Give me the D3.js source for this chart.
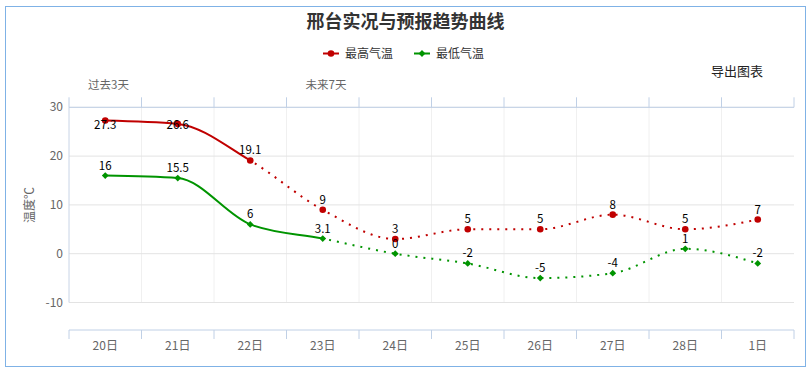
<!DOCTYPE html>
<html>
<head>
<meta charset="utf-8">
<script src="https://cdn.jsdelivr.net/npm/d3@7/dist/d3.min.js"></script>
<style>
body { margin: 0; background: #fff; }
text { font-family: "Noto Sans CJK SC", "Noto Sans", sans-serif; }
</style>
</head>
<body>
<div id="chart"></div>
<script>
// data
var days = ["20日", "21日", "22日", "23日", "24日", "25日", "26日", "27日", "28日", "1日"];
var maxTemps = [27.3, 26.6, 19.1, 9, 3, 5, 5, 8, 5, 7];
var minTemps = [16, 15.5, 6, 3.1, 0, -2, -5, -4, 1, -2];
var yTicks = [-10, 0, 10, 20, 30];
var periodLabels = ["过去3天", "未来7天"];
var periodStarts = [0, 3];   // index of first day in each period
var solidUntil = [2, 3];     // last observed point for max / min

var series = [
  {name: "最高气温", values: maxTemps, color: "#c00000", marker: "circle", solid: solidUntil[0]},
  {name: "最低气温", values: minTemps, color: "#009400", marker: "diamond", solid: solidUntil[1]}
];

var width = 811, height = 372;
// note: "top" is reserved on window, so plot edges get their own names
var plotLeft = 69, plotRight = 794, plotTop = 107.3, plotBottom = 302.5, xAxisY = 330;

var svg = d3.select("#chart").append("svg")
  .attr("width", width)
  .attr("height", height);

// outer frame
svg.append("rect")
  .attr("x", 5.5).attr("y", 6.5)
  .attr("width", 800).attr("height", 360)
  .style("fill", "#fff")
  .style("stroke", "#7fb2e6");

var x = d3.scaleBand().domain(days).range([plotLeft, plotRight]);
var bw = x.bandwidth();
function cx(i) { return x(days[i]) + bw / 2; }
var y = d3.scaleLinear().domain([-10, 30]).range([plotBottom, plotTop]);

// title
svg.append("text")
  .attr("x", width / 2).attr("y", 28)
  .attr("text-anchor", "middle")
  .attr("font-size", "18px")
  .attr("font-weight", "bold")
  .style("fill", "#333")
  .text("邢台实况与预报趋势曲线");

function drawMarker(g, px, py, s) {
  if (s.marker == "circle") {
    g.append("circle").attr("cx", px).attr("cy", py).attr("r", 3.3)
      .style("fill", s.color);
  } else {
    var r = 3.4;
    g.append("path")
      .attr("d", "M" + px + "," + (py - r) + "L" + (px + r) + "," + py + "L" + px + "," + (py + r) + "L" + (px - r) + "," + py + "Z")
      .style("fill", s.color);
  }
}

// legend
var legendX = [323, 414];
series.forEach(function(s, i) {
  var g = svg.append("g").attr("transform", "translate(" + legendX[i] + ",53.5)");
  g.append("line").attr("x1", 0).attr("x2", 16)
    .style("stroke", s.color).style("stroke-width", 2);
  drawMarker(g, 8, 0, s);
  g.append("text").attr("x", 22).attr("y", 4.5)
    .attr("font-size", "12px").style("fill", "#333")
    .text(s.name);
});

// export button text
svg.append("text")
  .attr("x", 737).attr("y", 76)
  .attr("text-anchor", "middle")
  .attr("font-size", "13px")
  .style("fill", "#222")
  .text("导出图表");

// period labels above top axis
periodLabels.forEach(function(t, i) {
  svg.append("text")
    .attr("x", x(days[periodStarts[i]]) + 19)
    .attr("y", 89)
    .attr("font-size", "11.5px")
    .style("fill", "#666")
    .text(t);
});

// grid
var bounds = days.map(function(d) { return x(d); }).concat([plotRight]);
svg.selectAll(".vgrid").data(bounds.slice(1, -1)).enter().append("line")
  .attr("x1", function(d) { return d; }).attr("x2", function(d) { return d; })
  .attr("y1", plotTop).attr("y2", plotBottom)
  .style("stroke", "#f0f0f0");

svg.selectAll(".hgrid").data(yTicks).enter().append("line")
  .attr("x1", plotLeft).attr("x2", plotRight)
  .attr("y1", function(d) { return y(d); }).attr("y2", function(d) { return y(d); })
  .style("stroke", "#e3e3e3");

// y axis
svg.append("line")
  .attr("x1", plotLeft).attr("x2", plotLeft).attr("y1", plotTop).attr("y2", plotBottom)
  .style("stroke", "#c8d4e6");
svg.selectAll(".ylab").data(yTicks).enter().append("text")
  .attr("x", plotLeft - 6).attr("y", function(d) { return y(d) + 4; })
  .attr("text-anchor", "end")
  .attr("font-size", "12px")
  .style("fill", "#666")
  .text(function(d) { return d; });
svg.append("text")
  .attr("transform", "translate(34," + ((plotTop + plotBottom) / 2) + ") rotate(-90)")
  .attr("text-anchor", "middle")
  .attr("font-size", "12px")
  .style("fill", "#666")
  .text("温度℃");

// top axis (ticks pointing up)
svg.append("line")
  .attr("x1", plotLeft).attr("x2", plotRight).attr("y1", plotTop).attr("y2", plotTop)
  .style("stroke", "#c0d0e6");
svg.selectAll(".ttick").data(bounds).enter().append("line")
  .attr("x1", function(d) { return d; }).attr("x2", function(d) { return d; })
  .attr("y1", plotTop - 10).attr("y2", plotTop)
  .style("stroke", "#c0d0e6");

// bottom axis
svg.append("line")
  .attr("x1", plotLeft).attr("x2", plotRight).attr("y1", xAxisY).attr("y2", xAxisY)
  .style("stroke", "#c0d0e6");
svg.selectAll(".btick").data(bounds).enter().append("line")
  .attr("x1", function(d) { return d; }).attr("x2", function(d) { return d; })
  .attr("y1", xAxisY).attr("y2", xAxisY + 9)
  .style("stroke", "#c0d0e6");
svg.selectAll(".xlab").data(days).enter().append("text")
  .attr("x", function(d, i) { return cx(i); })
  .attr("y", 350)
  .attr("text-anchor", "middle")
  .attr("font-size", "12px")
  .style("fill", "#666")
  .text(function(d) { return d; });

// series lines: solid for observed part, dotted for forecast
var line = d3.line()
  .x(function(d, i) { return cx(i); })
  .y(function(d) { return y(d); })
  .curve(d3.curveMonotoneX);

var defs = svg.append("defs");
series.forEach(function(s, k) {
  var splitX = cx(s.solid);
  defs.append("clipPath").attr("id", "solid" + k)
    .append("rect").attr("x", 0).attr("y", 0).attr("width", splitX).attr("height", height);
  defs.append("clipPath").attr("id", "dot" + k)
    .append("rect").attr("x", splitX).attr("y", 0).attr("width", width - splitX).attr("height", height);

  svg.append("path")
    .attr("d", line(s.values))
    .attr("clip-path", "url(#solid" + k + ")")
    .style("fill", "none")
    .style("stroke", s.color)
    .style("stroke-width", 2);
  svg.append("path")
    .attr("d", line(s.values))
    .attr("clip-path", "url(#dot" + k + ")")
    .style("fill", "none")
    .style("stroke", s.color)
    .style("stroke-width", 2)
    .style("stroke-dasharray", "2,6");

  var g = svg.append("g");
  s.values.forEach(function(v, i) { drawMarker(g, cx(i), y(v), s); });
});

// data labels (kept inside the plot top)
series.forEach(function(s) {
  svg.selectAll(null).data(s.values).enter().append("text")
    .attr("x", function(d, i) { return cx(i); })
    .attr("y", function(d) { return Math.max(y(d) - 6, plotTop + 22); })
    .attr("text-anchor", "middle")
    .attr("font-size", "11.5px")
    .style("fill", "#000")
    .text(function(d) { return d; });
});
</script>
</body>
</html>
